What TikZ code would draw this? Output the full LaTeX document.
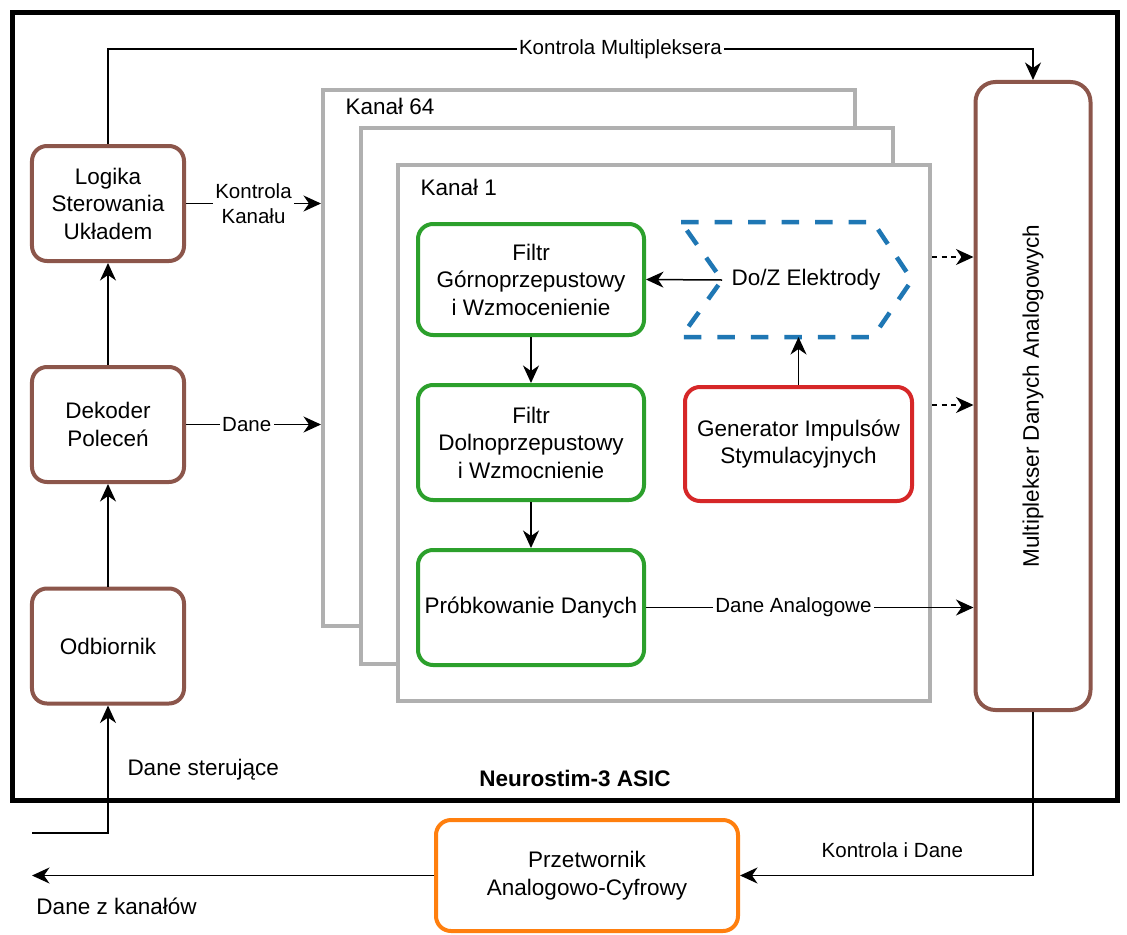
\documentclass[tikz,border=0pt]{standalone}
\usepackage{fontspec}
\setmainfont{Liberation Sans}
\usetikzlibrary{arrows.meta, calc}

\definecolor{brazowy}{HTML}{8C564B}
\definecolor{zielony}{HTML}{2CA02C}
\definecolor{czerwony}{HTML}{D62728}
\definecolor{pomaranczowy}{HTML}{FF7F0E}
\definecolor{niebieski}{HTML}{1F77B4}
\definecolor{szary}{HTML}{B0B0B0}

\begin{document}
\begin{tikzpicture}[x=0.4pt, y=-0.4pt,
	blok/.style={draw, rounded corners=6pt, line width=1.6pt, fill=white, align=center, inner sep=2pt, font=\fontsize{9}{11}\selectfont},
	sterowanie/.style={blok, draw=brazowy, minimum width=60.8pt, minimum height=46pt},
	filtr/.style={blok, draw=zielony, minimum width=90.4pt, minimum height=46pt},
	kanal/.style={draw=szary, line width=1.6pt, fill=white, minimum width=212.8pt, minimum height=214.4pt},
	strzalka/.style={-{Stealth[length=7pt, width=6.4pt, inset=2.2pt]}, line width=0.6pt},
	kreski/.style={strzalka, dash pattern=on 2pt off 1.8pt},
	opis/.style={fill=white, inner sep=1pt, align=center, font=\fontsize{8.2}{9.9}\selectfont},
	tekst/.style={inner sep=0pt, font=\fontsize{9}{11}\selectfont}]

	\useasboundingbox (0,0) rectangle (1127,934);

	% ramka ukladu
	\draw[line width=2pt] (12,12) rectangle (1117,800);
	\node[tekst, font=\fontsize{9}{11}\selectfont\bfseries] (asic) at (575,778) {Neurostim-3 ASIC};

	% kanaly 64 ... 1
	\node[kanal] (kanal64) at (589,358) {};
	\node[kanal] (kanal2) at (627,396) {};
	\node[kanal] (kanal1) at (664,433) {};
	\node[tekst, anchor=west] (opis64) at (345,106) {Kanał 64};
	\node[tekst, anchor=west] (opis1) at (420,187) {Kanał 1};

	% bloki sterujace
	\node[sterowanie] (logika) at (108,203.5) {Logika\\Sterowania\\Układem};
	\node[sterowanie] (dekoder) at (108,424.5) {Dekoder\\Poleceń};
	\node[sterowanie] (odbiornik) at (108,646) {Odbiornik};

	% tor sygnalu w kanale
	\node[filtr, minimum height=44.4pt] (filtr1) at (531,279.5) {Filtr\\Górnoprzepustowy\\i Wzmocenienie};
	\node[filtr] (filtr2) at (531,442.5) {Filtr\\Dolnoprzepustowy\\i Wzmocnienie};
	\node[filtr] (probka) at (531,607.5) {Próbkowanie Danych};
	\node[blok, draw=czerwony, minimum width=90.8pt, minimum height=45.6pt] (gen) at (798.5,444) {Generator Impulsów\\Stymulacyjnych};

	% elektroda
	\draw[niebieski, line width=1.8pt, dash pattern=on 7pt off 6.4pt]
		(681,222) -- (873,222) -- (912,280) -- (873,337) -- (681,337) -- (722,280) -- cycle;
	\node[tekst] (elek) at (806,280) {Do/Z Elektrody};
	\coordinate (elekL) at (722,280);
	\coordinate (elekB) at (0,337);

	% multiplekser i przetwornik
	\node[blok, draw=brazowy, rounded corners=8pt, minimum width=46pt, minimum height=251.2pt] (mux) at (1033,396) {};
	\node[tekst, rotate=90] (muxopis) at (mux.center) {Multiplekser Danych Analogowych};
	\node[blok, draw=pomaranczowy, minimum width=120.8pt, minimum height=44.4pt] (adc) at (587,875.5) {Przetwornik\\Analogowo-Cyfrowy};

	% polaczenia
	\coordinate (gora) at (0,49);
	\coordinate (s1) at (0,257);
	\coordinate (s2) at (0,405);
	\coordinate (wej) at (32,833);
	\coordinate (wyj) at (32,877);

	\draw[strzalka] (odbiornik) -- (dekoder);
	\draw[strzalka] (dekoder) -- (logika);
	\draw[strzalka] (logika.east) -- node[opis] {Kontrola\\Kanału} (kanal64.west |- logika.east);
	\draw[strzalka] (dekoder.east) -- node[opis, pos=0.45] {Dane} (kanal64.west |- dekoder.east);
	\draw[strzalka] (logika.north) -- (logika.north |- gora) -| node[opis, pos=0.277] {Kontrola Multipleksera} (mux.north);

	\draw[strzalka] (filtr1) -- (filtr2);
	\draw[strzalka] (filtr2) -- (probka);
	\draw[strzalka] (elekL) -- (filtr1.east);
	\draw[strzalka] (gen.north) -- (gen.north |- elekB);

	\draw[kreski] (kanal1.east |- s1) -- (mux.west |- s1);
	\draw[kreski] (kanal1.east |- s2) -- (mux.west |- s2);
	\draw[strzalka] (probka.east) -- node[opis, pos=0.45] {Dane Analogowe} (mux.west |- probka.east);

	\draw[strzalka] (wej) -| (odbiornik.south);
	\node[tekst, anchor=west] (sterujace) at (127,770) {Dane sterujące};

	\draw[strzalka] (mux.south) |- node[opis, fill=none, pos=0.74, above=6pt] {Kontrola i Dane} (adc.east);
	\draw[strzalka] (adc.west) -- (adc.west -| wyj);
	\node[tekst, anchor=west] (kanalow) at (36,906) {Dane z kanałów};
\end{tikzpicture}
\end{document}
